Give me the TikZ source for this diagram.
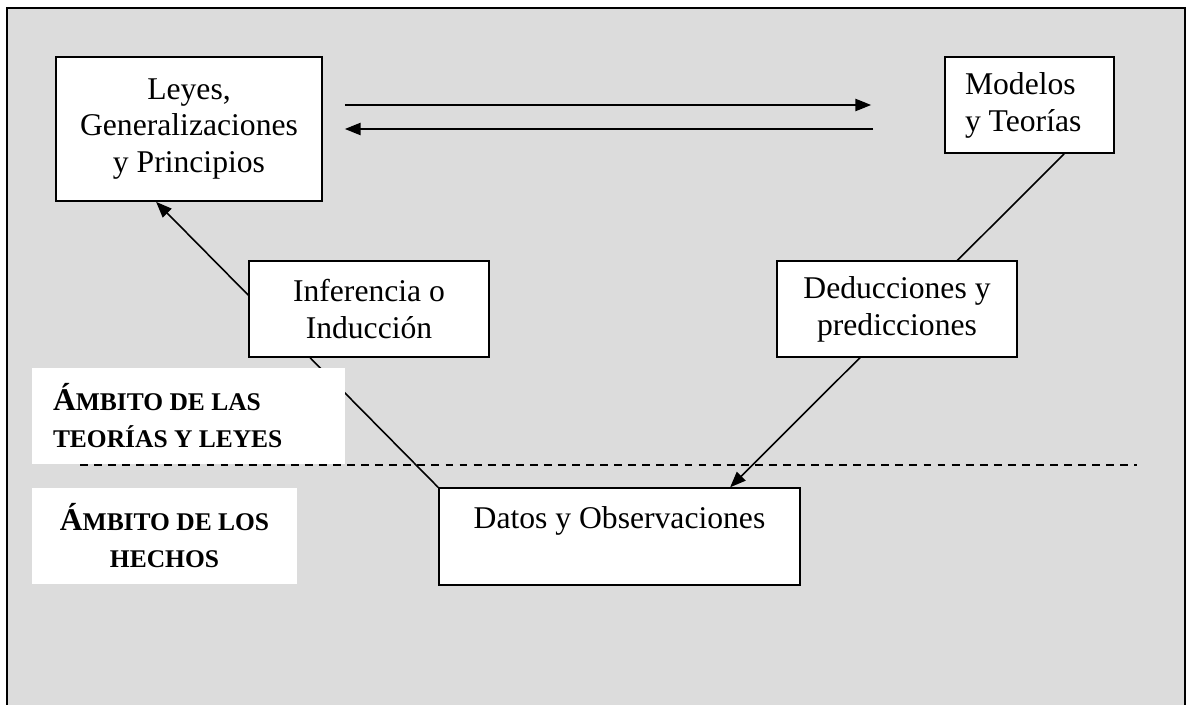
\documentclass[tikz,border=0pt]{standalone}
\usepackage{fontspec}
\setmainfont{Liberation Serif}
\usepackage{tikz}
\usetikzlibrary{arrows.meta,positioning,backgrounds}
\definecolor{panelgray}{HTML}{DCDCDC}
\newcommand{\smallcap}[1]{{\fontsize{14.5pt}{21pt}\selectfont #1}}

\begin{document}
\begin{tikzpicture}[
    arr/.style={-{Triangle[length=9pt, width=7pt]}, line width=0.9pt},
    box/.style={draw, fill=white, line width=1pt, inner sep=0pt, align=center,
      font=\fontsize{18pt}{21pt}\selectfont},
    tag/.style={fill=white, inner sep=0pt,
      font=\fontsize{18pt}{21pt}\selectfont\bfseries},
  ]
  \useasboundingbox (0,0) rectangle (23.76,14.08);

  % Upper boxes
  \node[box, minimum width=5.32cm, minimum height=2.88cm] (leyes)
    at (3.78,11.5) {Leyes,\\Generalizaciones\\y Principios};
  \node[box, align=flush left, text width=2.58cm, inner xsep=0.4cm,
        minimum height=1.92cm] (modelos)
    at (20.59,11.98) {Modelos\\y Teorías};

  % Middle boxes
  \node[box, minimum width=4.8cm, minimum height=1.92cm] (induccion)
    at (7.38,7.9) {Inferencia o\\Inducción};
  \node[box, minimum width=4.8cm, minimum height=1.92cm] (deduccion)
    at (17.94,7.9) {Deducciones y\\predicciones};

  % Bottom box
  \node[box, minimum width=7.22cm, text height=23pt, text depth=32pt] (datos)
    at (12.39,3.35) {Datos y Observaciones};

  % Ambit labels
  \node[tag, align=flush left, text width=5.42cm, inner xsep=0.42cm,
        minimum height=1.92cm] (teorias)
    at (3.77,5.76) {Á\smallcap{MBITO DE LAS}\\\smallcap{TEORÍAS Y LEYES}};
  \node[tag, align=center, minimum width=5.3cm, minimum height=1.92cm] (hechos)
    at (3.29,3.36) {Á\smallcap{MBITO DE LOS}\\\smallcap{HECHOS}};

  % Horizontal arrows
  \coordinate (topL) at ([xshift=0.44cm]leyes.east |- modelos.center);
  \coordinate (topR) at ([xshift=-1.46cm]modelos.west);
  \coordinate (lowL) at ([xshift=0.44cm]leyes.east);
  \coordinate (lowR) at ([xshift=-1.42cm]modelos.west |- leyes.east);
  \draw[arr] (topL) -- (topR);
  \draw[arr] (lowR) -- (lowL);

  % Frame and diagonal links, behind the boxes
  \begin{pgfonlayer}{background}
    \draw[line width=1pt, fill=panelgray] (0.14,-0.3) rectangle (23.70,13.92);
    \draw[arr] (datos.north west) -- ([xshift=2.02cm]leyes.south west);
    \draw[arr] ([xshift=2.4cm]modelos.south west)
      -- ([xshift=5.84cm]datos.north west);
  \end{pgfonlayer}

  % Divider
  \draw[line width=0.7pt, dash pattern=on 4.5pt off 3.5pt]
    (1.6,4.78) -- (22.74,4.78);

\end{tikzpicture}
\end{document}
